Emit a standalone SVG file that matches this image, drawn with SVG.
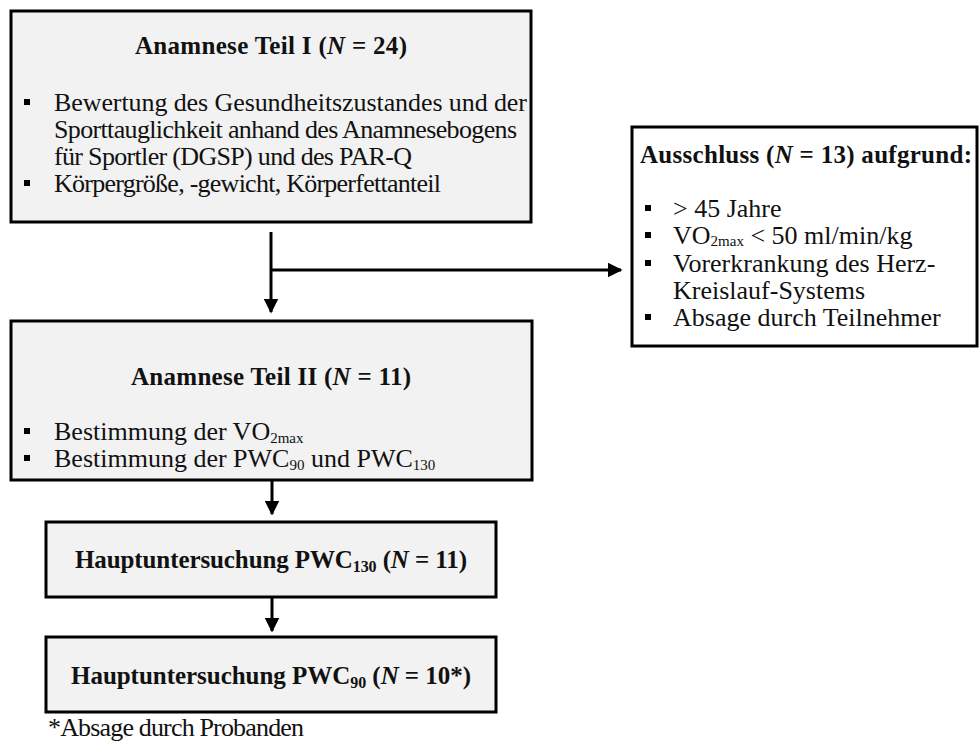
<svg xmlns="http://www.w3.org/2000/svg" width="980" height="743" viewBox="0 0 980 743">
<style>
.box{fill:#f2f2f2;stroke:#000;stroke-width:3}
.wbox{fill:#fff;stroke:#000;stroke-width:3}
text{font-family:"Liberation Serif","Times New Roman",serif;fill:#111}
.t{font-size:25px;font-weight:bold}
.b{font-size:26px}
.sub{font-size:15px}
.bsub{font-size:16px}
.bul{fill:#000}
.ln{stroke:#000;stroke-width:3;fill:none}
</style>
<defs>
<marker id="ah" markerWidth="5" markerHeight="5" refX="4.5" refY="2.5" orient="auto" markerUnits="strokeWidth">
<path d="M0,0 L5,2.5 L0,5 Z" fill="#000"/>
</marker>
</defs>
<rect width="980" height="743" fill="#fff"/>
<g id="connectors">
<line class="ln" x1="271" y1="232" x2="271" y2="312" marker-end="url(#ah)"/>
<line class="ln" x1="271" y1="270" x2="621" y2="270" marker-end="url(#ah)"/>
<line class="ln" x1="272" y1="481" x2="272" y2="514" marker-end="url(#ah)"/>
<line class="ln" x1="272" y1="598" x2="272" y2="631" marker-end="url(#ah)"/>
</g>
<g id="anamnese1">
<rect class="box" x="11" y="11" width="520" height="211"/>
<text class="t" x="271" y="54" text-anchor="middle" textLength="272">Anamnese Teil I (<tspan font-style="italic">N</tspan> = 24)</text>
<rect class="bul" x="24" y="99" width="6" height="6"/>
<text class="b" x="54" y="111" textLength="473">Bewertung des Gesundheitszustandes und der</text>
<text class="b" x="54" y="138" textLength="463">Sporttauglichkeit anhand des Anamnesebogens</text>
<text class="b" x="54" y="165" textLength="358">für Sportler (DGSP) und des PAR-Q</text>
<rect class="bul" x="24" y="180" width="6" height="6"/>
<text class="b" x="54" y="192" textLength="387">Körpergröße, -gewicht, Körperfettanteil</text>
</g>
<g id="ausschluss">
<rect class="wbox" x="632" y="127" width="345" height="219"/>
<text class="t" x="640" y="163" textLength="332">Ausschluss (<tspan font-style="italic">N</tspan> = 13) aufgrund:</text>
<rect class="bul" x="645" y="205" width="6" height="6"/>
<text class="b" x="673" y="217">&gt; 45 Jahre</text>
<rect class="bul" x="645" y="232" width="6" height="6"/>
<text class="b" x="673" y="244">VO<tspan class="sub" dy="2">2max</tspan><tspan dy="-2"> &lt; 50 ml/min/kg</tspan></text>
<rect class="bul" x="645" y="260" width="6" height="6"/>
<text class="b" x="673" y="272">Vorerkrankung des Herz-</text>
<text class="b" x="673" y="299">Kreislauf-Systems</text>
<rect class="bul" x="645" y="314" width="6" height="6"/>
<text class="b" x="673" y="326">Absage durch Teilnehmer</text>
</g>
<g id="anamnese2">
<rect class="box" x="11" y="321" width="521" height="159"/>
<text class="t" x="271" y="385" text-anchor="middle" textLength="280">Anamnese Teil II (<tspan font-style="italic">N</tspan> = 11)</text>
<rect class="bul" x="24" y="428" width="6" height="6"/>
<text class="b" x="54" y="440">Bestimmung der VO<tspan class="sub" dy="3">2max</tspan></text>
<rect class="bul" x="24" y="455" width="6" height="6"/>
<text class="b" x="54" y="467">Bestimmung der PWC<tspan class="sub" dy="3">90</tspan><tspan dy="-3"> und PWC</tspan><tspan class="sub" dy="3">130</tspan></text>
</g>
<g id="haupt130">
<rect class="box" x="46" y="522" width="450" height="75"/>
<text class="t" x="271" y="568" text-anchor="middle" textLength="392">Hauptuntersuchung PWC<tspan class="bsub" dy="4">130</tspan><tspan dy="-4"> (</tspan><tspan font-style="italic">N</tspan> = 11)</text>
</g>
<g id="haupt90">
<rect class="box" x="46" y="637" width="450" height="75"/>
<text class="t" x="271" y="684" text-anchor="middle" textLength="400">Hauptuntersuchung PWC<tspan class="bsub" dy="4">90</tspan><tspan dy="-4"> (</tspan><tspan font-style="italic">N</tspan> = 10*)</text>
</g>
<g id="footnote">
<text class="b" x="48" y="736" textLength="256">*Absage durch Probanden</text>
</g>
</svg>
